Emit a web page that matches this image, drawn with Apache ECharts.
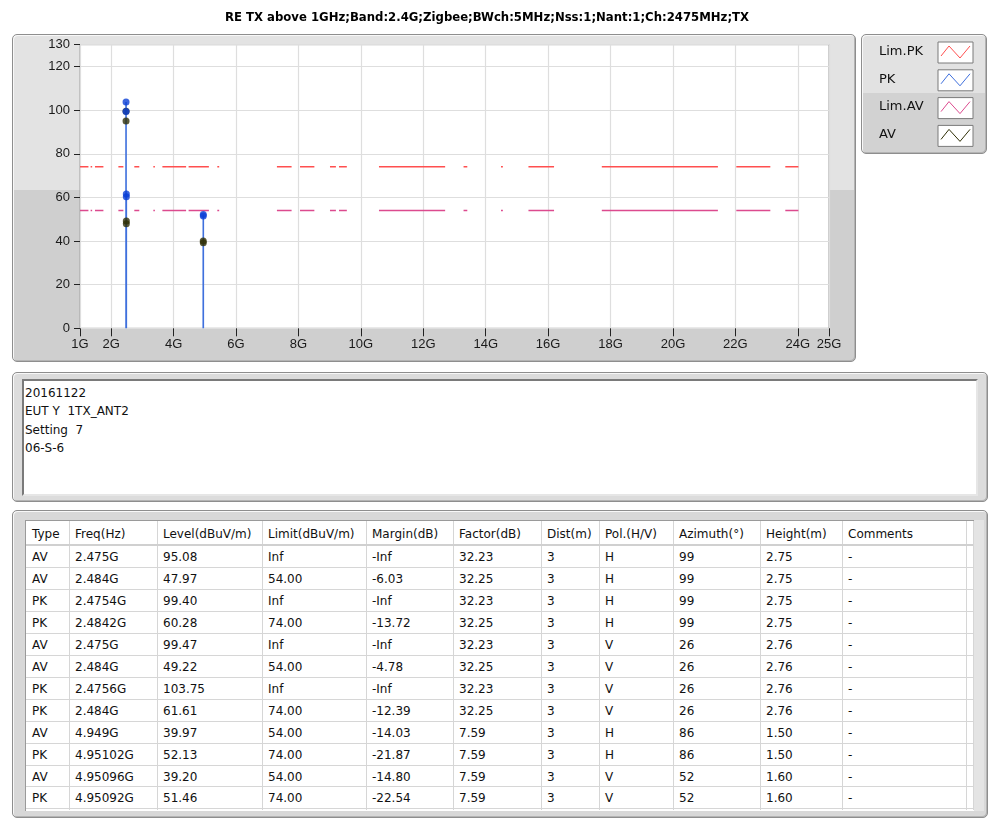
<!DOCTYPE html>
<html><head><meta charset="utf-8">
<script src="https://cdn.jsdelivr.net/npm/echarts@6/dist/echarts.min.js"></script>
<style>
body{margin:0;background:#fff;width:999px;height:820px;position:relative;overflow:hidden;font-family:'DejaVu Sans',sans-serif;color:#111;}
.panel{position:absolute;border:1px solid #8e8e8e;border-radius:5px;box-sizing:border-box;box-shadow:inset 1px 1px 0 #f8f8f8, inset -1px -1px 0 #b4b4b4;}
#chartPanel{left:12px;top:34px;width:844px;height:328px;background:linear-gradient(#e3e3e3 0,#e3e3e3 155px,#cfcfcf 155px);}
#legendPanel{left:861px;top:34px;width:126px;height:120px;background:linear-gradient(#e2e2e2 0,#e2e2e2 58px,#d2d2d2 58px);}
#textPanel{left:12px;top:372px;width:976px;height:130px;background:#dcdcdc;}
#textBox{position:absolute;left:22px;top:379px;width:956px;height:117px;background:#fff;border:2px solid;border-color:#7a7a7a #e6e6e6 #e6e6e6 #7a7a7a;box-sizing:border-box;font-size:12px;line-height:18.3px;padding:3px 0 0 1px;white-space:pre;}
#tablePanel{left:12px;top:510px;width:976px;height:308px;background:#d8d8d8;}
#tableArea{position:absolute;left:25px;top:520px;width:949px;height:291px;background:#fff;border-top:1px solid #9a9a9a;border-left:1px solid #9a9a9a;box-sizing:border-box;}
#scrollTrack{position:absolute;left:974px;top:520px;width:10px;height:291px;background:#e4e4e4;}
.cell{position:absolute;font-size:12px;padding-left:6px;padding-top:1px;box-sizing:border-box;white-space:nowrap;overflow:hidden;}
.vl{position:absolute;width:1px;background:#d6d6d6;}
.hl{position:absolute;height:1px;background:#d6d6d6;}
#chart{position:absolute;left:0;top:0;width:999px;height:370px;}
</style></head>
<body>
<div class="panel" id="chartPanel"></div>
<div class="panel" id="legendPanel"></div>
<div class="panel" id="textPanel"></div>
<div id="textBox"></div>
<div class="panel" id="tablePanel"></div>
<div id="scrollTrack"></div>
<div id="tableArea"></div>
<div id="chart"></div>
<script>
// ---- data ----
const titleText = 'RE TX above 1GHz;Band:2.4G;Zigbee;BWch:5MHz;Nss:1;Nant:1;Ch:2475MHz;TX';
const noteLines = ['20161122', 'EUT Y  1TX_ANT2', 'Setting  7', '06-S-6'];
const xTicks = [1, 2, 4, 6, 8, 10, 12, 14, 16, 18, 20, 22, 24, 25];
const yTicks = [0, 20, 40, 60, 80, 100, 120, 130];
const legendNames = ['Lim.PK', 'PK', 'Lim.AV', 'AV'];
const limPK = 74;
const limAV = 54;
// limit-line segments (GHz) as drawn in the picture
const limitSegments = [[1.0,1.27],[1.34,1.39],[1.48,1.75],[2.23,2.39],[2.74,2.90],[3.35,3.40],[3.64,4.40],[4.48,5.13],[5.40,5.46],[7.31,7.78],[8.05,8.51],[9.01,9.20],[9.30,9.55],[10.58,12.70],[13.29,13.41],[14.49,14.55],[15.37,16.19],[17.72,21.44],[22.03,23.12],[23.60,24.02]];

const headers = ['Type','Freq(Hz)','Level(dBuV/m)','Limit(dBuV/m)','Margin(dB)','Factor(dB)','Dist(m)','Pol.(H/V)','Azimuth(°)','Height(m)','Comments',''];
const types = ['AV','AV','PK','PK','AV','AV','PK','PK','AV','PK','AV','PK'];
const freqGHz = [2.475, 2.484, 2.4754, 2.4842, 2.475, 2.484, 2.4756, 2.484, 4.949, 4.95102, 4.95096, 4.95092];
const levels = [95.08, 47.97, 99.40, 60.28, 99.47, 49.22, 103.75, 61.61, 39.97, 52.13, 39.20, 51.46];
const limits = ['Inf','54.00','Inf','74.00','Inf','54.00','Inf','74.00','54.00','74.00','54.00','74.00'];
const margins = ['-Inf','-6.03','-Inf','-13.72','-Inf','-4.78','-Inf','-12.39','-14.03','-21.87','-14.80','-22.54'];
const factors = ['32.23','32.25','32.23','32.25','32.23','32.25','32.23','32.25','7.59','7.59','7.59','7.59'];
const dists = ['3','3','3','3','3','3','3','3','3','3','3','3'];
const pols = ['H','H','H','H','V','V','V','V','H','H','V','V'];
const azimuths = ['99','99','99','99','26','26','26','26','86','86','52','52'];
const heightsM = ['2.75','2.75','2.75','2.75','2.76','2.76','2.76','2.76','1.50','1.50','1.60','1.60'];
const comments = ['-','-','-','-','-','-','-','-','-','-','-','-'];

// ---- styles ----
const colors = {limPK:'#ff4f4f', pk:'#0a3fd6', stem:'#3f70dd', limAV:'#dc4a8e', av:'#2f2f06'};
const FONT = 'Liberation Sans';

// ---- text box ----
document.getElementById('textBox').textContent = noteLines.join('\n');

// ---- table ----
const colX = [26, 69, 157, 262, 366, 453, 541, 599, 673, 760, 842, 966, 973];
const headTop = 521, headH = 24, rowTop = 546, rowH = 21.95;
let html = '';
const columns = [types, freqGHz.map(f => f + 'G'), levels.map(v => v.toFixed(2)), limits, margins, factors, dists, pols, azimuths, heightsM, comments, comments.map(() => '')];
for (let c = 0; c < headers.length; c++) {
  html += `<div class="cell" style="left:${colX[c]}px;top:${headTop}px;width:${colX[c+1]-colX[c]}px;height:${headH}px;line-height:${headH}px">${headers[c]}</div>`;
  for (let r = 0; r < types.length; r++) {
    html += `<div class="cell" style="left:${colX[c]}px;top:${rowTop + r*rowH}px;width:${colX[c+1]-colX[c]}px;height:${rowH}px;line-height:${rowH}px">${columns[c][r]}</div>`;
  }
}
for (let c = 1; c < colX.length; c++) {
  html += `<div class="vl" style="left:${colX[c]}px;top:${headTop}px;height:${810-headTop}px"></div>`;
}
html += `<div class="hl" style="left:26px;top:544px;width:947px;height:2px;background:#d0d0d0"></div>`;
for (let r = 1; r <= types.length; r++) {
  html += `<div class="hl" style="left:26px;top:${Math.round(rowTop + r*rowH - 1)}px;width:947px"></div>`;
}
const holder = document.createElement('div');
holder.innerHTML = html;
document.body.appendChild(holder);

// ---- chart series data ----
function segData(level) {
  const d = [];
  limitSegments.forEach(s => { d.push([s[0], level]); d.push([s[1], level]); d.push(['-', '-']); });
  return d;
}
const stemData = [];
freqGHz.forEach((f, i) => { stemData.push([f, 0]); stemData.push([f, levels[i]]); stemData.push(['-', '-']); });
const pkPts = [], avPts = [];
types.forEach((t, i) => { (t === 'PK' ? pkPts : avPts).push([freqGHz[i], levels[i]]); });

// ---- legend (LabVIEW plot legend) as graphics ----
const legendColors = [colors.limPK, colors.stem, colors.limAV, colors.av];
const legendGraphics = [];
legendNames.forEach((n, i) => {
  const top = 42 + i * 27.8, bx = 938, bw = 35, bh = 21;
  legendGraphics.push({type:'text', left: 879, top: top + 3, style:{text:n, font:'13px "DejaVu Sans"', fill:'#111'}});
  legendGraphics.push({type:'rect', shape:{x:bx, y:top, width:bw, height:bh}, style:{fill:'#fff', stroke:'#7a7a7a', lineWidth:1}});
  legendGraphics.push({type:'polyline', shape:{points:[[bx+3, top+14],[bx+11, top+4],[bx+22, top+16],[bx+32, top+4]]}, style:{stroke:legendColors[i], lineWidth:1, fill:null}});
});

const chart = echarts.init(document.getElementById('chart'), null, {renderer:'canvas'});
chart.setOption({
  animation: false,
  backgroundColor: 'transparent',
  title: {text: titleText, left: 482, top: 7, textAlign: 'center',
    textStyle: {fontFamily: 'DejaVu Sans', fontSize: 11.7, fontWeight: 'bold', color: '#000'}},
  grid: {left: 80, top: 44.7, width: 749, height: 283.6, show: true, backgroundColor: '#fff', borderColor: '#9a9a9a', borderWidth: 1},
  xAxis: {
    type: 'value', min: 1, max: 25,
    axisLine: {show: false},
    axisTick: {show: true, length: 8, lineStyle: {color: '#222'}, customValues: xTicks},
    axisLabel: {customValues: xTicks, formatter: v => v + 'G', color: '#1a1a1a', fontFamily: FONT, fontSize: 13, margin: 10},
    splitLine: {show: true, lineStyle: {color: '#dedede', width: 1.2}}
  },
  yAxis: {
    type: 'value', min: 0, max: 130,
    axisLine: {show: false},
    axisTick: {show: true, length: 6, lineStyle: {color: '#222'}, customValues: yTicks},
    axisLabel: {customValues: yTicks, color: '#1a1a1a', fontFamily: FONT, fontSize: 13, margin: 10},
    splitLine: {show: true, lineStyle: {color: '#dedede', width: 1.2}}
  },
  graphic: legendGraphics,
  series: [
    {name: legendNames[0], type: 'line', data: segData(limPK), showSymbol: false, connectNulls: false,
      lineStyle: {color: colors.limPK, width: 1.5}, z: 2, silent: true},
    {name: legendNames[2], type: 'line', data: segData(limAV), showSymbol: false, connectNulls: false,
      lineStyle: {color: colors.limAV, width: 1.5}, z: 2, silent: true},
    {name: 'stems', type: 'line', data: stemData, showSymbol: false, connectNulls: false,
      lineStyle: {color: colors.stem, width: 1.6}, z: 3, silent: true},
    {name: legendNames[3], type: 'scatter', data: avPts, symbol: 'circle', symbolSize: 7,
      itemStyle: {color: colors.av}, z: 4},
    {name: legendNames[1], type: 'scatter', data: pkPts, symbol: 'circle', symbolSize: 7,
      itemStyle: {color: colors.pk}, z: 5}
  ]
});
</script>
</body></html>
